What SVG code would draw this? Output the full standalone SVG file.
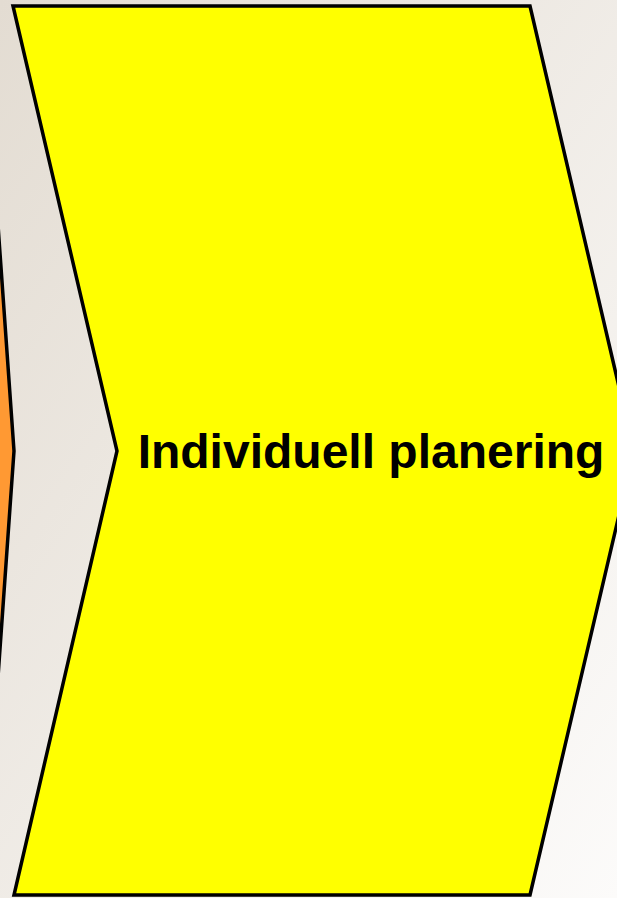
<svg xmlns="http://www.w3.org/2000/svg" width="617" height="898" viewBox="0 0 617 898">
  <defs>
    <linearGradient id="bg" x1="0" y1="0" x2="1" y2="1">
      <stop offset="0" stop-color="#E3DCD2"/>
      <stop offset="1" stop-color="#FCFBFA"/>
    </linearGradient>
    <style>
      .shape { stroke: #000; stroke-width: 3.5; stroke-linejoin: miter; }
      .label { font-family: "Liberation Sans", Arial, sans-serif; font-weight: bold; font-size: 48px; fill: #000; }
    </style>
  </defs>
  <rect x="0" y="0" width="617" height="898" fill="url(#bg)"/>
  <g id="node-prev">
    <polygon class="shape" fill="#FF9933" points="-60,-100 -25,-100 14,451 -25,1002 -60,1002"/>
  </g>
  <g id="node-individuell">
    <polygon class="shape" fill="#FFFF00" points="13,6 530,6 634,451 530,895 14,895 117,451"/>
    <text class="label" x="371" y="468" text-anchor="middle">Individuell planering</text>
  </g>
  <g id="connectors"/>
</svg>
